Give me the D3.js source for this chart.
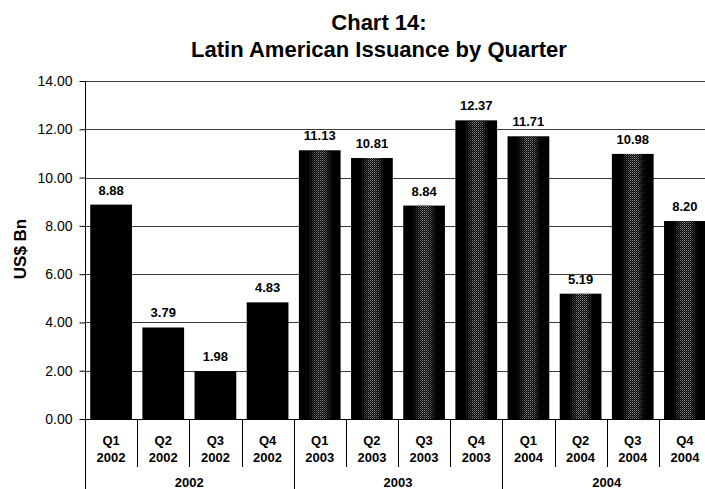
<!DOCTYPE html>
<html>
<head>
<meta charset="utf-8">
<script src="https://cdn.jsdelivr.net/npm/d3@7"></script>
<style>
  html, body { margin: 0; padding: 0; background: #fff; }
  svg { display: block; font-family: "Liberation Sans", Arial, sans-serif; }
</style>
</head>
<body>
<svg id="chart" width="705" height="489"></svg>
<script>
// Quarterly issuance, US$ billions
const quarters = ["Q1", "Q2", "Q3", "Q4", "Q1", "Q2", "Q3", "Q4", "Q1", "Q2", "Q3", "Q4"];
const years = ["2002", "2002", "2002", "2002", "2003", "2003", "2003", "2003", "2004", "2004", "2004", "2004"];
const values = [8.88, 3.79, 1.98, 4.83, 11.13, 10.81, 8.84, 12.37, 11.71, 5.19, 10.98, 8.20];
const yearGroups = ["2002", "2003", "2004"];
const yTicks = [0, 2, 4, 6, 8, 10, 12, 14];

const svg = d3.select("#chart");
const plotLeft = 85, plotRight = 711, plotTop = 81, plotBottom = 419;

const ids = values.map((d, i) => i);
const x = d3.scaleBand().domain(ids).range([plotLeft, plotRight]).paddingInner(0.2).paddingOuter(0.1);
const y = d3.scaleLinear().domain([0, 14]).range([plotBottom, plotTop]);
const fmt = d3.format(".2f");

// Textured fill for the later bars: grey speckle fading toward black edges
const defs = svg.append("defs");
const dots = defs.append("pattern").attr("id", "dots").attr("patternUnits", "userSpaceOnUse")
  .attr("width", 2).attr("height", 2);
dots.append("rect").attr("width", 2).attr("height", 2).attr("fill", "#000");
dots.append("rect").attr("x", 0).attr("y", 0).attr("width", 1).attr("height", 1).attr("fill", "#b0b0b0");
dots.append("rect").attr("x", 1).attr("y", 1).attr("width", 1).attr("height", 1).attr("fill", "#555");
const grad = defs.append("linearGradient").attr("id", "fade").attr("x1", 0).attr("x2", 1).attr("y1", 0).attr("y2", 0);
grad.append("stop").attr("offset", "0%").attr("stop-color", "#000");
grad.append("stop").attr("offset", "22%").attr("stop-color", "#000");
grad.append("stop").attr("offset", "45%").attr("stop-color", "#ccc");
grad.append("stop").attr("offset", "58%").attr("stop-color", "#ccc");
grad.append("stop").attr("offset", "80%").attr("stop-color", "#000");
grad.append("stop").attr("offset", "100%").attr("stop-color", "#000");
const mask = defs.append("mask").attr("id", "fadeMask").attr("maskContentUnits", "objectBoundingBox");
mask.append("rect").attr("width", 1).attr("height", 1).attr("fill", "url(#fade)");

// Title
svg.append("text").attr("x", 379).attr("y", 30).attr("text-anchor", "middle")
  .attr("font-size", 22).attr("font-weight", "bold").text("Chart 14:");
svg.append("text").attr("x", 379).attr("y", 57).attr("text-anchor", "middle")
  .attr("font-size", 22).attr("font-weight", "bold").text("Latin American Issuance by Quarter");

// Gridlines
svg.append("g").selectAll("line").data(yTicks.filter(d => d > 0)).join("line")
  .attr("x1", plotLeft).attr("x2", plotRight)
  .attr("y1", d => Math.round(y(d)) + 0.5).attr("y2", d => Math.round(y(d)) + 0.5)
  .attr("stroke", "#3a3a3a").attr("stroke-width", 1);

// Y axis
const yAxis = svg.append("g").attr("transform", `translate(${plotLeft + 0.5},0)`)
  .call(d3.axisLeft(y).tickValues(yTicks).tickFormat(fmt).tickSize(6).tickSizeOuter(0));
yAxis.select(".domain").remove();
yAxis.selectAll(".tick line").attr("stroke", "#000");
yAxis.selectAll(".tick text").attr("font-size", 14).attr("font-family", "Liberation Sans, Arial, sans-serif")
  .attr("fill", "#000").attr("x", -13);
svg.append("line").attr("x1", plotLeft + 0.5).attr("x2", plotLeft + 0.5).attr("y1", plotTop).attr("y2", 489)
  .attr("stroke", "#000");

// Axis title
svg.append("text").attr("transform", "translate(26,249) rotate(-90)").attr("text-anchor", "middle")
  .attr("font-size", 17).attr("font-weight", "bold").text("US$ Bn");

// Bars
const bars = svg.append("g");
bars.selectAll("rect.bar").data(ids).join("rect").attr("class", "bar")
  .attr("x", i => x(i)).attr("width", x.bandwidth())
  .attr("y", i => y(values[i])).attr("height", i => y(0) - y(values[i]))
  .attr("fill", "#000");
bars.selectAll("rect.tex").data(ids.filter(i => years[i] !== "2002")).join("rect").attr("class", "tex")
  .attr("x", i => x(i)).attr("width", x.bandwidth())
  .attr("y", i => y(values[i])).attr("height", i => y(0) - y(values[i]))
  .attr("fill", "url(#dots)").attr("mask", "url(#fadeMask)");

// Value labels
svg.append("g").selectAll("text").data(ids).join("text")
  .attr("x", i => x(i) + x.bandwidth() / 2).attr("y", i => y(values[i]) - 10)
  .attr("text-anchor", "middle").attr("font-size", 13).attr("font-weight", "bold")
  .text(i => fmt(values[i]));

// Baseline
svg.append("line").attr("x1", plotLeft).attr("x2", plotRight).attr("y1", plotBottom + 0.5).attr("y2", plotBottom + 0.5)
  .attr("stroke", "#000");

// Category dividers and labels
const step = x.step();
const edge = i => plotLeft + x.paddingOuter() * step - x.paddingInner() * step / 2 + i * step;
svg.append("g").selectAll("line").data(d3.range(1, 13)).join("line")
  .attr("x1", i => Math.round(edge(i)) + 0.5).attr("x2", i => Math.round(edge(i)) + 0.5)
  .attr("y1", plotBottom).attr("y2", i => (i % 4 === 0 ? 489 : 467))
  .attr("stroke", "#000");

const qLabels = svg.append("g").selectAll("text").data(ids).join("text")
  .attr("text-anchor", "middle").attr("font-size", 13).attr("font-weight", "bold");
qLabels.append("tspan").attr("x", i => x(i) + x.bandwidth() / 2).attr("y", 445).text(i => quarters[i]);
qLabels.append("tspan").attr("x", i => x(i) + x.bandwidth() / 2).attr("y", 462).text(i => years[i]);

svg.append("g").selectAll("text").data(yearGroups).join("text")
  .attr("x", (d, g) => (edge(g * 4) + edge(g * 4 + 4)) / 2).attr("y", 487)
  .attr("text-anchor", "middle").attr("font-size", 13).attr("font-weight", "bold")
  .text(d => d);
</script>
</body>
</html>
